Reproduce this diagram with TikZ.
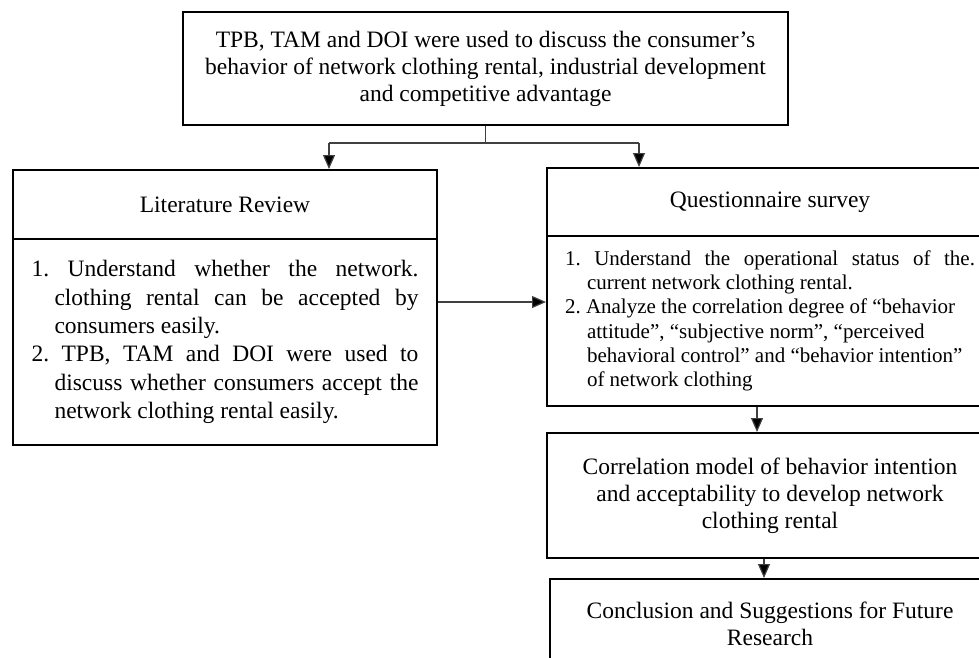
\documentclass[tikz,border=0pt]{standalone}
\usepackage{fontspec}
\setmainfont{Liberation Serif}
\usetikzlibrary{arrows.meta,calc}
\begin{document}
\begin{tikzpicture}[x=1pt,y=-1pt,
  box/.style={draw=black, line width=2pt, rectangle, anchor=north west, inner sep=0pt,
    font=\fontsize{23.5}{27}\selectfont, align=center},
  listbox/.style={box, align=justify},
  conn/.style={line width=1.2pt, draw=black!75},
  arr/.style={conn, -{Triangle[length=14pt,width=12pt,fill=black]}}]
\useasboundingbox (0,0) rectangle (979,657);

\node[box, minimum width=605pt, minimum height=113pt] (top) at (182,11)
  {TPB, TAM and DOI were used to discuss the consumer’s\\behavior of network clothing rental, industrial development\\and competitive advantage};

\node[box, minimum width=424pt, minimum height=69pt] (litT) at (12,169) {Literature Review};
\node[listbox, minimum width=424pt, minimum height=206pt, text width=387pt,
  font=\fontsize{23.5}{28.4}\selectfont] (litB) at (12,238)
  {\tolerance=9999\hbadness=10000\noindent\hangindent=23pt\hangafter=1 1.\ Understand whether the network.\linebreak clothing rental can be accepted by\linebreak consumers easily.\par
   \noindent\hangindent=23pt\hangafter=1 2.\ TPB, TAM and DOI were used to\linebreak discuss whether consumers accept the\linebreak network clothing rental easily.\par};

\node[box, minimum width=446pt, minimum height=68pt] (qT) at (546,167) {Questionnaire survey};
\node[listbox, minimum width=446pt, minimum height=170pt, text width=410pt,
  font=\fontsize{21}{24.3}\selectfont] (qB) at (546,235)
  {\tolerance=9999\hbadness=10000\noindent\hangindent=22pt\hangafter=1 1.\ Understand the operational status of the.\linebreak current network clothing rental.\par
   \noindent\hangindent=22pt\hangafter=1 2.\ Analyze the correlation degree of “behavior\newline attitude”, “subjective norm”, “perceived\newline behavioral control” and “behavior intention”\newline of network clothing\par};

\node[box, minimum width=446pt, minimum height=125pt] (corr) at (546,432)
  {Correlation model of behavior intention\\and acceptability to develop network\\clothing rental};

\node[box, minimum width=440pt, minimum height=90pt] (concl) at (549,578)
  {Conclusion and Suggestions for Future\\Research};

\coordinate (jl) at (329,143);
\coordinate (jr) at (639,143);
\coordinate (hy) at (500,302);
\coordinate (v1) at (757,0);
\coordinate (v2) at (764,0);

\draw[conn] (top.south) -- (top.south |- jl);
\draw[conn] (jl) -- (jr);
\draw[arr] (jl) -- (jl |- litT.north);
\draw[arr] (jr) -- (jr |- qT.north);
\draw[arr] (litB.east |- hy) -- (qB.west |- hy);
\draw[arr] (qB.south -| v1) -- (corr.north -| v1);
\draw[arr] (corr.south -| v2) -- (concl.north -| v2);
\end{tikzpicture}
\end{document}
